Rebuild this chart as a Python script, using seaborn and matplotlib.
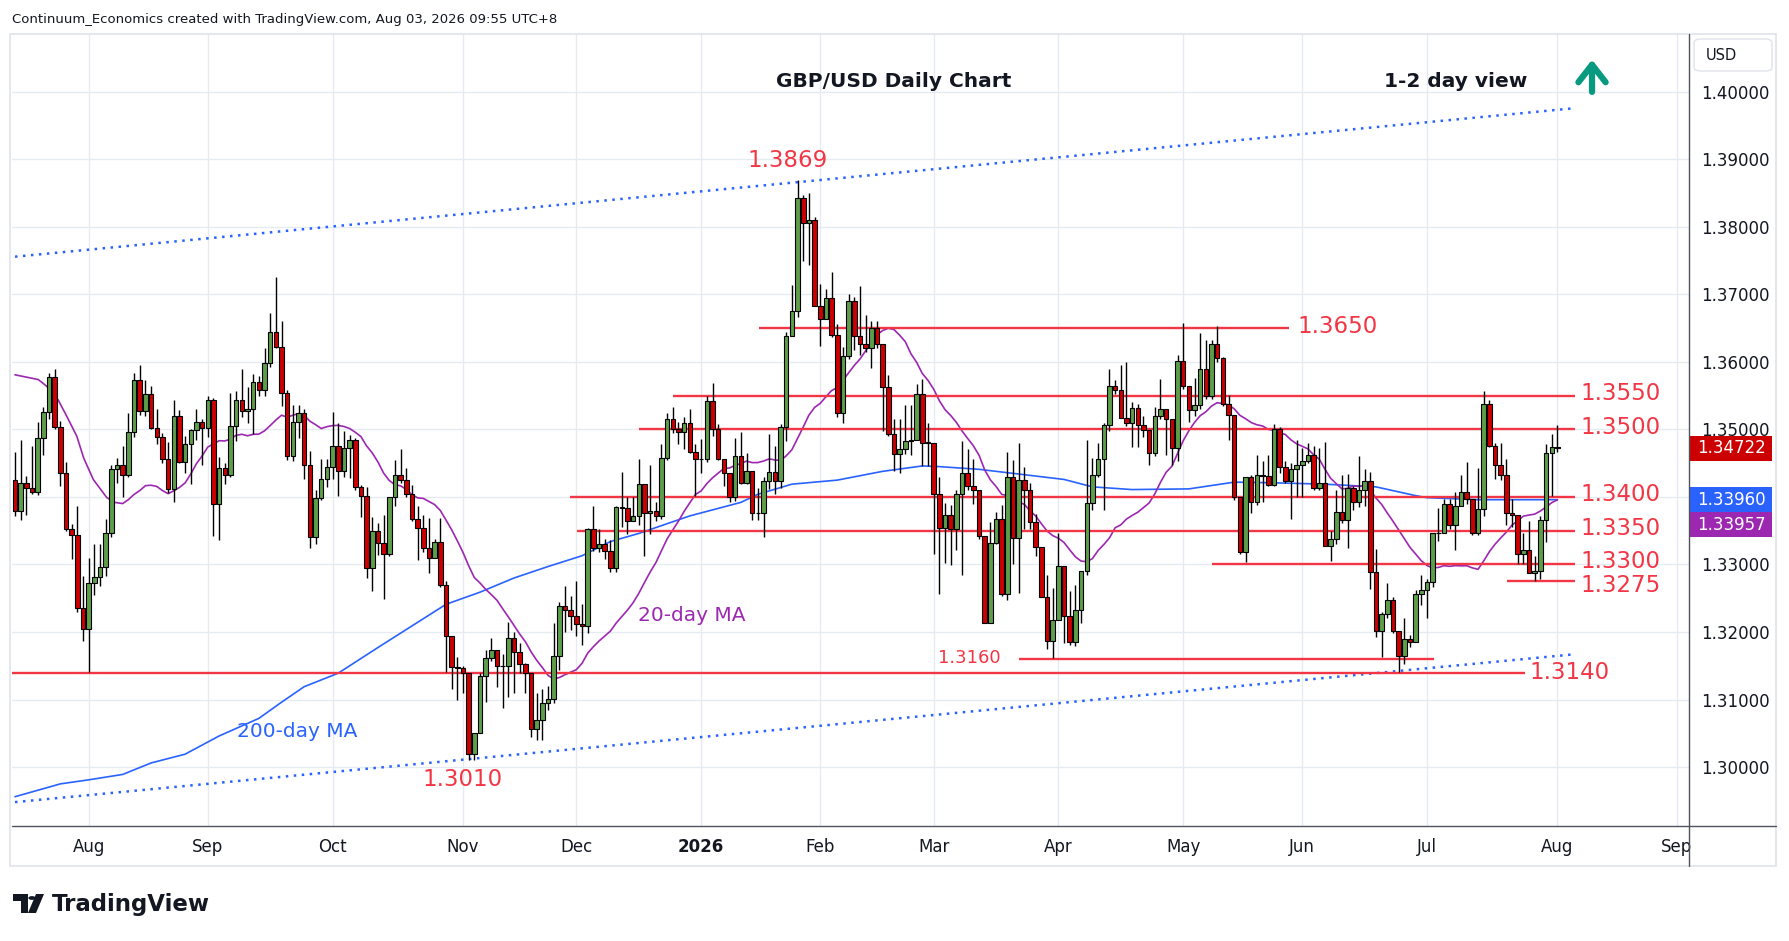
import numpy as np
import pandas as pd
import matplotlib
matplotlib.use('Agg')
import matplotlib.pyplot as plt
from matplotlib.patches import Rectangle, FancyBboxPatch, Polygon, Circle
from matplotlib.lines import Line2D
import seaborn as sns

sns.set_theme(style='white')
plt.rcParams['font.family'] = ['DejaVu Sans']

# ---- daily GBP/USD, 15 Jul 2025 .. 3 Aug 2026 ----
first_open = 1.3425
closes = [
    1.3379, 1.3420, 1.3414, 1.3407, 1.3488, 1.3526, 1.3578, 1.3504, 1.3436, 1.3352,
    1.3343, 1.3235, 1.3204, 1.3272, 1.3282, 1.3297, 1.3347, 1.3441, 1.3448, 1.3432,
    1.3497, 1.3574, 1.3527, 1.3552, 1.3502, 1.3489, 1.3457, 1.3412, 1.3520, 1.3452,
    1.3478, 1.3499, 1.3511, 1.3502, 1.3543, 1.3389, 1.3443, 1.3433, 1.3505, 1.3543,
    1.3527, 1.3530, 1.3570, 1.3558, 1.3599, 1.3645, 1.3622, 1.3554, 1.3461, 1.3511,
    1.3524, 1.3447, 1.3341, 1.3399, 1.3427, 1.3445, 1.3475, 1.3438, 1.3473, 1.3484,
    1.3415, 1.3401, 1.3295, 1.3349, 1.3332, 1.3316, 1.3400, 1.3433, 1.3425, 1.3405,
    1.3368, 1.3354, 1.3324, 1.3309, 1.3334, 1.3270, 1.3194, 1.3148, 1.3147, 1.3139,
    1.3020, 1.3050, 1.3135, 1.3162, 1.3173, 1.3149, 1.3149, 1.3191, 1.3171, 1.3153,
    1.3140, 1.3057, 1.3070, 1.3095, 1.3101, 1.3164, 1.3238, 1.3232, 1.3223, 1.3212,
    1.3209, 1.3352, 1.3325, 1.3330, 1.3320, 1.3295, 1.3385, 1.3383, 1.3364, 1.3372,
    1.3419, 1.3376, 1.3379, 1.3372, 1.3458, 1.3516, 1.3501, 1.3496, 1.3510, 1.3467,
    1.3456, 1.3456, 1.3542, 1.3500, 1.3457, 1.3436, 1.3400, 1.3461, 1.3421, 1.3439,
    1.3376, 1.3377, 1.3424, 1.3437, 1.3424, 1.3503, 1.3638, 1.3676, 1.3843, 1.3806,
    1.3810, 1.3683, 1.3664, 1.3695, 1.3640, 1.3525, 1.3609, 1.3690, 1.3639, 1.3627,
    1.3620, 1.3650, 1.3626, 1.3563, 1.3494, 1.3463, 1.3471, 1.3483, 1.3484, 1.3553,
    1.3480, 1.3480, 1.3404, 1.3354, 1.3374, 1.3353, 1.3404, 1.3435, 1.3416, 1.3410,
    1.3342, 1.3214, 1.3332, 1.3368, 1.3257, 1.3430, 1.3339, 1.3425, 1.3410, 1.3363,
    1.3326, 1.3252, 1.3187, 1.3218, 1.3298, 1.3224, 1.3185, 1.3232, 1.3290, 1.3391,
    1.3433, 1.3456, 1.3506, 1.3565, 1.3558, 1.3517, 1.3510, 1.3532, 1.3506, 1.3499,
    1.3465, 1.3520, 1.3531, 1.3515, 1.3473, 1.3602, 1.3564, 1.3529, 1.3537, 1.3590,
    1.3549, 1.3626, 1.3606, 1.3538, 1.3521, 1.3400, 1.3318, 1.3430, 1.3393, 1.3432,
    1.3431, 1.3418, 1.3501, 1.3445, 1.3424, 1.3442, 1.3447, 1.3453, 1.3462, 1.3414,
    1.3421, 1.3328, 1.3338, 1.3378, 1.3366, 1.3414, 1.3393, 1.3411, 1.3424, 1.3289,
    1.3202, 1.3227, 1.3247, 1.3202, 1.3165, 1.3189, 1.3185, 1.3256, 1.3262, 1.3274,
    1.3346, 1.3346, 1.3389, 1.3359, 1.3387, 1.3407, 1.3397, 1.3347, 1.3382, 1.3538,
    1.3476, 1.3448, 1.3432, 1.3376, 1.3374, 1.3315, 1.3322, 1.3288, 1.3290, 1.3366,
    1.3465, 1.3474, 1.3472,
]
highs = [
    1.3467, 1.3485, 1.3431, 1.3476, 1.3511, 1.3533, 1.3584, 1.3589, 1.3512, 1.3452,
    1.3360, 1.3387, 1.3283, 1.3310, 1.3331, 1.3330, 1.3368, 1.3448, 1.3458, 1.3476,
    1.3525, 1.3584, 1.3595, 1.3574, 1.3564, 1.3531, 1.3495, 1.3481, 1.3544, 1.3529,
    1.3491, 1.3501, 1.3531, 1.3515, 1.3550, 1.3547, 1.3459, 1.3450, 1.3554, 1.3557,
    1.3590, 1.3563, 1.3582, 1.3579, 1.3620, 1.3672, 1.3726, 1.3660, 1.3559, 1.3537,
    1.3537, 1.3530, 1.3468, 1.3411, 1.3456, 1.3456, 1.3526, 1.3510, 1.3498, 1.3492,
    1.3488, 1.3418, 1.3415, 1.3371, 1.3362, 1.3374, 1.3400, 1.3455, 1.3471, 1.3443,
    1.3418, 1.3387, 1.3374, 1.3369, 1.3338, 1.3369, 1.3276, 1.3193, 1.3163, 1.3149,
    1.3139, 1.3050, 1.3139, 1.3173, 1.3191, 1.3173, 1.3168, 1.3215, 1.3200, 1.3184,
    1.3154, 1.3140, 1.3109, 1.3116, 1.3120, 1.3213, 1.3244, 1.3268, 1.3254, 1.3275,
    1.3241, 1.3354, 1.3386, 1.3352, 1.3338, 1.3336, 1.3386, 1.3437, 1.3400, 1.3400,
    1.3456, 1.3419, 1.3447, 1.3392, 1.3478, 1.3524, 1.3534, 1.3511, 1.3518, 1.3531,
    1.3479, 1.3486, 1.3550, 1.3569, 1.3508, 1.3457, 1.3436, 1.3487, 1.3496, 1.3465,
    1.3439, 1.3414, 1.3430, 1.3493, 1.3475, 1.3508, 1.3645, 1.3714, 1.3869, 1.3848,
    1.3850, 1.3815, 1.3716, 1.3708, 1.3733, 1.3656, 1.3622, 1.3700, 1.3697, 1.3712,
    1.3670, 1.3660, 1.3660, 1.3626, 1.3581, 1.3515, 1.3515, 1.3536, 1.3536, 1.3567,
    1.3575, 1.3510, 1.3456, 1.3430, 1.3391, 1.3388, 1.3411, 1.3483, 1.3471, 1.3456,
    1.3411, 1.3342, 1.3363, 1.3378, 1.3388, 1.3466, 1.3455, 1.3480, 1.3445, 1.3420,
    1.3375, 1.3326, 1.3284, 1.3265, 1.3346, 1.3298, 1.3260, 1.3270, 1.3290, 1.3485,
    1.3458, 1.3480, 1.3509, 1.3589, 1.3573, 1.3595, 1.3600, 1.3540, 1.3538, 1.3520,
    1.3499, 1.3534, 1.3575, 1.3531, 1.3515, 1.3611, 1.3658, 1.3564, 1.3577, 1.3643,
    1.3632, 1.3632, 1.3653, 1.3608, 1.3551, 1.3521, 1.3400, 1.3430, 1.3432, 1.3462,
    1.3453, 1.3462, 1.3508, 1.3504, 1.3454, 1.3450, 1.3484, 1.3472, 1.3480, 1.3476,
    1.3472, 1.3481, 1.3350, 1.3410, 1.3432, 1.3434, 1.3416, 1.3460, 1.3442, 1.3437,
    1.3323, 1.3230, 1.3272, 1.3252, 1.3202, 1.3220, 1.3195, 1.3262, 1.3285, 1.3278,
    1.3346, 1.3384, 1.3397, 1.3397, 1.3407, 1.3432, 1.3452, 1.3397, 1.3443, 1.3557,
    1.3544, 1.3480, 1.3480, 1.3457, 1.3397, 1.3374, 1.3347, 1.3364, 1.3312, 1.3372,
    1.3478, 1.3494, 1.3506,
]
lows = [
    1.3372, 1.3366, 1.3374, 1.3405, 1.3403, 1.3462, 1.3515, 1.3500, 1.3416, 1.3350,
    1.3308, 1.3230, 1.3187, 1.3141, 1.3255, 1.3268, 1.3283, 1.3340, 1.3420, 1.3400,
    1.3430, 1.3489, 1.3522, 1.3520, 1.3500, 1.3479, 1.3450, 1.3406, 1.3392, 1.3450,
    1.3436, 1.3419, 1.3485, 1.3448, 1.3489, 1.3342, 1.3336, 1.3419, 1.3430, 1.3483,
    1.3519, 1.3510, 1.3493, 1.3549, 1.3549, 1.3593, 1.3620, 1.3535, 1.3455, 1.3453,
    1.3488, 1.3427, 1.3324, 1.3331, 1.3395, 1.3415, 1.3427, 1.3401, 1.3430, 1.3428,
    1.3410, 1.3371, 1.3280, 1.3261, 1.3314, 1.3249, 1.3312, 1.3387, 1.3420, 1.3400,
    1.3365, 1.3307, 1.3318, 1.3288, 1.3312, 1.3266, 1.3141, 1.3116, 1.3099, 1.3109,
    1.3010, 1.3010, 1.3050, 1.3097, 1.3157, 1.3119, 1.3087, 1.3104, 1.3109, 1.3140,
    1.3109, 1.3044, 1.3040, 1.3040, 1.3085, 1.3095, 1.3144, 1.3200, 1.3203, 1.3194,
    1.3181, 1.3199, 1.3320, 1.3318, 1.3308, 1.3289, 1.3289, 1.3355, 1.3345, 1.3364,
    1.3358, 1.3312, 1.3345, 1.3365, 1.3368, 1.3455, 1.3495, 1.3478, 1.3471, 1.3465,
    1.3401, 1.3436, 1.3452, 1.3490, 1.3455, 1.3417, 1.3392, 1.3394, 1.3419, 1.3419,
    1.3366, 1.3366, 1.3340, 1.3412, 1.3404, 1.3414, 1.3483, 1.3644, 1.3666, 1.3750,
    1.3743, 1.3683, 1.3624, 1.3664, 1.3637, 1.3519, 1.3510, 1.3605, 1.3618, 1.3611,
    1.3615, 1.3591, 1.3620, 1.3498, 1.3490, 1.3438, 1.3436, 1.3463, 1.3462, 1.3484,
    1.3446, 1.3446, 1.3315, 1.3256, 1.3302, 1.3299, 1.3322, 1.3284, 1.3410, 1.3389,
    1.3338, 1.3214, 1.3221, 1.3330, 1.3253, 1.3248, 1.3300, 1.3258, 1.3353, 1.3353,
    1.3312, 1.3252, 1.3175, 1.3162, 1.3218, 1.3184, 1.3180, 1.3179, 1.3214, 1.3285,
    1.3380, 1.3430, 1.3381, 1.3498, 1.3552, 1.3517, 1.3505, 1.3474, 1.3474, 1.3489,
    1.3448, 1.3460, 1.3515, 1.3462, 1.3447, 1.3454, 1.3560, 1.3511, 1.3520, 1.3530,
    1.3545, 1.3545, 1.3600, 1.3535, 1.3485, 1.3396, 1.3316, 1.3303, 1.3377, 1.3388,
    1.3393, 1.3416, 1.3416, 1.3435, 1.3420, 1.3368, 1.3400, 1.3400, 1.3450, 1.3410,
    1.3410, 1.3328, 1.3305, 1.3330, 1.3362, 1.3325, 1.3380, 1.3385, 1.3386, 1.3263,
    1.3193, 1.3163, 1.3220, 1.3198, 1.3141, 1.3153, 1.3178, 1.3185, 1.3240, 1.3221,
    1.3266, 1.3335, 1.3346, 1.3352, 1.3322, 1.3387, 1.3390, 1.3344, 1.3344, 1.3372,
    1.3474, 1.3427, 1.3425, 1.3359, 1.3355, 1.3300, 1.3300, 1.3288, 1.3275, 1.3278,
    1.3333, 1.3402, 1.3466,
]

# 200-day MA (bar number, value)
ma200_bar = [0, 8, 13, 19, 24, 30, 36, 43, 47, 51, 57, 64, 70, 76, 82, 88, 94, 100,
             105, 110, 119, 128, 131, 137, 145, 153, 160, 163, 170, 179, 185, 190, 197,
             207, 215, 222, 231, 240, 247, 249, 258, 272]
ma200_val = [1.2956, 1.2975, 1.2981, 1.2989, 1.3006, 1.3019, 1.3046, 1.3072, 1.3096,
             1.3119, 1.3139, 1.3177, 1.3209, 1.3241, 1.3259, 1.3280, 1.3297, 1.3313,
             1.3334, 1.3346, 1.3372, 1.3392, 1.3404, 1.3419, 1.3425, 1.3438, 1.3446,
             1.3445, 1.3441, 1.3432, 1.3426, 1.3415, 1.3411, 1.3412, 1.3422, 1.3421,
             1.3419, 1.3415, 1.3402, 1.3399, 1.3396, 1.3396]
# 20-day MA before a full window is available
ma20_head_bar = [0, 4.1, 5.6, 7.6, 9.1, 10.9, 12.1, 13.8, 16.2, 17.6]
ma20_head_val = [1.3581, 1.3574, 1.3564, 1.3544, 1.3520, 1.3490, 1.3458, 1.3426, 1.3399, 1.3392]

levels = [1.3650, 1.3550, 1.3500, 1.3400, 1.3350, 1.3300, 1.3275, 1.3160, 1.3140]
level_text = ['1.3650', '1.3550', '1.3500', '1.3400', '1.3350', '1.3300', '1.3275', '1.3160', '1.3140']
channel_bar = [0, 275]
channel_upper = [1.3756, 1.3976]
channel_lower = [1.2948, 1.3167]

last_price = 1.34722
ma200_last = 1.33960
ma20_last = 1.33957

# ---- frame ----
dates = pd.bdate_range('2025-07-15', '2026-08-03')
dates = dates[~dates.isin(pd.to_datetime(['2025-12-25', '2026-01-01']))]
df = pd.DataFrame({'date': dates, 'close': closes, 'high': highs, 'low': lows})
df['open'] = df['close'].shift(1).fillna(first_open)
df['x'] = np.arange(len(df))
df['high'] = df[['high', 'open', 'close']].max(axis=1)
df['low'] = df[['low', 'open', 'close']].min(axis=1)

ma20 = df['close'].rolling(20).mean()
ma20_df = pd.concat([
    pd.DataFrame({'x': ma20_head_bar, 'v': ma20_head_val}),
    pd.DataFrame({'x': df['x'][19:], 'v': ma20[19:]}),
], ignore_index=True)
ma200_df = pd.DataFrame({'x': ma200_bar, 'v': ma200_val})

W, H = 1789, 941
fig = plt.figure(figsize=(W / 100, H / 100), dpi=100)
fig.patch.set_facecolor('white')


def fx(px, py):
    return px / W, 1 - py / H


ax = fig.add_axes([12 / W, 1 - 826 / H, 1677 / W, 792 / H])
ax.set_facecolor('white')
ax.set_xlim(-0.53, 295.2)
ax.set_ylim(1.29126, 1.40859)

# grid
yt = np.round(np.arange(1.30, 1.4001, 0.01), 2)
ax.set_yticks(yt)
# the 1.34000 label sits under the MA tags on the original
ax.set_yticklabels(['' if abs(v - 1.34) < 1e-9 else f'{v:.5f}' for v in yt])
month_pos, month_lab = [], []
for i, d in enumerate(df['date']):
    if i == 0 or d.month != df['date'].iloc[i - 1].month:
        if i == 0 and d.day > 3:
            continue
        month_pos.append(i)
        month_lab.append('2026' if (d.month == 1) else d.strftime('%b'))
month_pos.append(len(df) - 1 + 21)
month_lab.append('Sep')
ax.set_xticks(month_pos)
ax.set_xticklabels(month_lab)
for t in ax.get_xticklabels():
    if t.get_text() == '2026':
        t.set_fontweight('bold')
ax.grid(True, color='#e6ebf1', lw=1.0)
ax.set_axisbelow(True)
ax.yaxis.tick_right()
ax.tick_params(axis='y', length=0, pad=9, labelsize=12, labelcolor='#131722')
ax.tick_params(axis='x', length=0, pad=9, labelsize=12, labelcolor='#131722')
for s in ax.spines.values():
    s.set_visible(False)

# channel
ax.plot(channel_bar, channel_upper, color='#2962ff', lw=1.8, ls=(0, (1, 2.2)), zorder=2)
ax.plot(channel_bar, channel_lower, color='#2962ff', lw=1.8, ls=(0, (1, 2.2)), zorder=2)

# moving averages
sns.lineplot(data=ma200_df, x='x', y='v', ax=ax, color='#2962ff', lw=1.2, zorder=2.2)
sns.lineplot(data=ma20_df, x='x', y='v', ax=ax, color='#9c27b0', lw=1.2, zorder=2.2)
ax.set_xlabel('')
ax.set_ylabel('')

# levels
red = '#f23645'
spans = {1.3650: (131.2, 224.7), 1.3550: (116, 275.1), 1.3500: (110, 275.1),
         1.3400: (97.9, 275.1), 1.3350: (99.1, 275.1), 1.3300: (211.1, 275.1),
         1.3275: (263.1, 275.1), 1.3160: (177.1, 250.3), 1.3140: (-0.6, 266.3)}
for lv, txt in zip(levels, level_text):
    a, b = spans[lv]
    ax.plot([a, b], [lv, lv], color=red, lw=1.7, zorder=2.5, solid_capstyle='butt')
    if lv == 1.3650:
        ax.text(226.1, lv + 0.0002, txt, color=red, fontsize=16.5, va='center', ha='left')
    elif lv == 1.3160:
        ax.text(162.8, lv + 0.0002, txt, color=red, fontsize=13, va='center', ha='left')
    elif lv == 1.3140:
        ax.text(267, lv, txt, color=red, fontsize=16.5, va='center', ha='left')
    else:
        dy = {1.3300: 0.0004, 1.3275: -0.0006}.get(lv, 0.0003)
        ax.text(276, lv + dy, txt, color=red, fontsize=16.5, va='center', ha='left')

# candles
up = df['close'] >= df['open']
body_lo = df[['open', 'close']].min(axis=1)
body_h = (df['close'] - df['open']).abs().clip(lower=0.00008)
ax.vlines(df['x'], df['low'], df['high'], color='black', lw=1.0, zorder=3)
ax.bar(df['x'], body_h, bottom=body_lo, width=0.8,
       color=np.where(up, '#5e9e48', '#cc0000'), edgecolor='black', linewidth=0.8, zorder=4)

# annotations
ax.text(136.2, 1.3899, '1.3869', color=red, fontsize=16.5, ha='center', va='center')
ax.text(79, 1.2981, '1.3010', color=red, fontsize=16.5, ha='center', va='center')
ax.text(119.4, 1.3225, '20-day MA', color='#9c27b0', fontsize=14.5, ha='center', va='center')
ax.text(49.7, 1.3052, '200-day MA', color='#2962ff', fontsize=14.5, ha='center', va='center')
ax.text(154.9, 1.4016, 'GBP/USD Daily Chart', color='#131722', fontsize=14.5,
        fontweight='bold', ha='center', va='center')
ax.text(254.1, 1.4015, '1-2 day view', color='#131722', fontsize=14.5,
        fontweight='bold', ha='center', va='center')
ax.annotate('', xy=(278.1, 1.4052), xytext=(278.1, 1.3996),
            arrowprops=dict(arrowstyle='->,head_length=0.9,head_width=0.7', lw=4.5,
                            color='#089981', mutation_scale=14, capstyle='round'))

# price tags on the axis
tag_h = 25 / 6750
ytr = ax.get_yaxis_transform()
for val, off, col in [(last_price, 0, '#cc0000'), (ma200_last, 0, '#2962ff'),
                      (ma20_last, -tag_h, '#9c27b0')]:
    yc = val + off
    ax.add_patch(Rectangle((1.0006, yc - tag_h / 2), 82 / 1677, tag_h, transform=ytr,
                           facecolor=col, edgecolor='none', clip_on=False, zorder=10))
    ax.text(1.0006 + 41 / 1677, yc, f'{val:.5f}', transform=ytr, color='white',
            fontsize=12, ha='center', va='center', zorder=11, clip_on=False)

# frame lines and boxes
fig.add_artist(Rectangle(fx(10, 866), 1766 / W, 832 / H, transform=fig.transFigure,
                         fill=False, edgecolor='#e0e3eb', lw=1.2))
fig.add_artist(Line2D([12 / W, 1776 / W], [1 - 826 / H] * 2, transform=fig.transFigure,
                      color='#50535e', lw=1.0))
fig.add_artist(Line2D([1689 / W] * 2, [1 - 34 / H, 1 - 866 / H], transform=fig.transFigure,
                      color='#50535e', lw=1.0))
fig.add_artist(FancyBboxPatch(fx(1694, 71), 78 / W, 32 / H, transform=fig.transFigure,
                              boxstyle='round,pad=0,rounding_size=0.004',
                              facecolor='white', edgecolor='#e0e3eb', lw=1.0))
fig.text(*fx(1706, 55), 'USD', fontsize=10.5, color='#131722', va='center', ha='left')

fig.text(*fx(12, 19), 'Continuum_Economics created with TradingView.com, Aug 03, 2026 09:55 UTC+8',
         fontsize=9.5, color='#131722', va='center', ha='left')

# TradingView logo
fig.add_artist(Polygon([fx(13, 894), fx(28, 894), fx(28, 913), fx(21, 913), fx(21, 901), fx(13, 901)],
                       closed=True, transform=fig.transFigure, facecolor='#131722', edgecolor='none'))
fig.add_artist(Circle(fx(32, 898), 3.6 / W, transform=fig.transFigure, facecolor='#131722',
                      edgecolor='none'))
fig.add_artist(Polygon([fx(36, 894), fx(44, 894), fx(36, 913), fx(28, 913)],
                       closed=True, transform=fig.transFigure, facecolor='#131722', edgecolor='none'))
fig.text(*fx(52, 904), 'TradingView', fontsize=16.5, fontweight='bold', color='#131722',
         va='center', ha='left')

fig.savefig('out.png', dpi=100, facecolor='white')
